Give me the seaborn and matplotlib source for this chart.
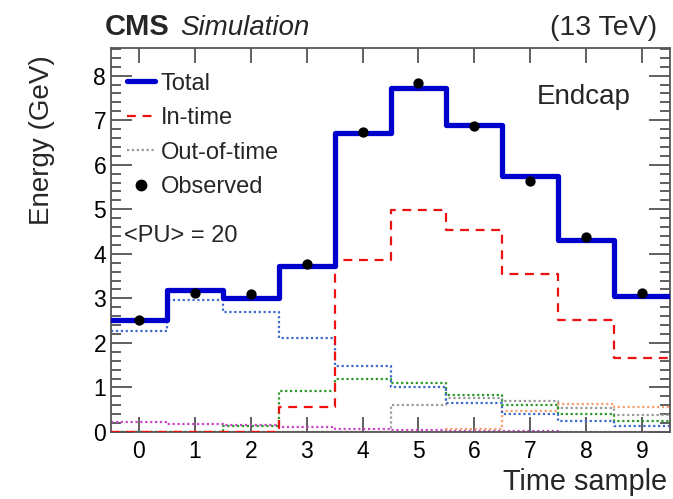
import numpy as np
import pandas as pd
import matplotlib
matplotlib.use("Agg")
import matplotlib.pyplot as plt
from matplotlib.ticker import MultipleLocator
from matplotlib.lines import Line2D
import seaborn as sns

# ---- data ----
samples = list(range(10))
total = [2.52, 3.18, 3.01, 3.72, 6.71, 7.73, 6.90, 5.74, 4.32, 3.05]
in_time = [0.0, 0.0, 0.0, 0.56, 3.87, 4.98, 4.54, 3.54, 2.51, 1.66]
observed = [2.51, 3.11, 3.10, 3.78, 6.73, 7.83, 6.87, 5.63, 4.38, 3.12]
oot_blue = [2.27, 2.97, 2.69, 2.10, 1.49, 1.00, 0.64, 0.41, 0.25, 0.13]
oot_green = [0.0, 0.0, 0.13, 0.92, 1.19, 1.09, 0.84, 0.61, 0.40, 0.25]
oot_gray = [0.0, 0.0, 0.0, 0.0, 0.0, 0.61, 0.76, 0.70, 0.53, 0.38]
oot_orange = [0.0, 0.0, 0.0, 0.0, 0.0, 0.0, 0.06, 0.47, 0.62, 0.56]
oot_magenta = [0.22, 0.19, 0.15, 0.11, 0.07, 0.04, 0.03, 0.02, 0.01, 0.01]
tick_labels = [str(s) for s in samples]

sns.set_style("ticks")
plt.rcParams['font.family'] = ['Liberation Sans', 'DejaVu Sans']

fig = plt.figure(figsize=(6.73, 4.99), dpi=100)
ax = fig.add_axes([111/673, 67/499, 559/673, 384/499])


def step(vals, color, ls, lw, z):
    df = pd.DataFrame({"x": samples, "w": vals})
    sns.histplot(data=df, x="x", weights="w", discrete=True, element="step",
                 fill=False, color=color, linestyle=ls, linewidth=lw,
                 ax=ax, zorder=z)

dot = (0, (1, 1.2))
step(oot_magenta, "#cc44cc", dot, 1.6, 2)
step(oot_orange, "#f5a070", dot, 1.6, 2)
step(oot_gray, "#999999", dot, 1.6, 2)
step(oot_green, "#2a9a2a", dot, 1.6, 2)
step(oot_blue, "#3a6ad0", dot, 1.6, 2)
step(in_time, "#ee1111", (0, (4, 3)), 1.6, 3)
step(total, "#0000cc", "-", 3.8, 4)

obs_df = pd.DataFrame({"x": samples, "y": observed})
sns.scatterplot(data=obs_df, x="x", y="y", color="black", s=55,
                edgecolor="black", linewidth=0, ax=ax, zorder=5)

ax.set_xlim(-0.5, 9.5)
ax.set_ylim(0, 8.62)
ax.set_xticks(samples)
ax.set_xticklabels(tick_labels)
ax.yaxis.set_major_locator(MultipleLocator(1))
ax.yaxis.set_minor_locator(MultipleLocator(0.2))
ax.tick_params(axis="both", which="both", direction="in", top=True,
               right=True, colors="#444444", labelcolor="black",
               labelsize=16.5, width=1.2)
ax.tick_params(axis="y", which="major", length=15)
ax.tick_params(axis="y", which="minor", length=7)
ax.tick_params(axis="x", which="major", length=11, pad=6)
for sp in ax.spines.values():
    sp.set_color("#555555")
    sp.set_linewidth(1.3)

ax.set_xlabel("Time sample", fontsize=20.8, loc="right")
ax.set_ylabel("Energy (GeV)", fontsize=20, loc="top")
ax.xaxis.set_label_coords(0.995, -0.095)
ax.yaxis.set_label_coords(-0.1, 0.98)

handles = [
    Line2D([], [], color="#0000cc", lw=3.8),
    Line2D([], [], color="#ee1111", lw=1.6, ls=(0, (4, 3))),
    Line2D([], [], color="#999999", lw=1.6, ls=dot),
    Line2D([], [], color="black", marker="o", ls="none", markersize=7.5),
]
ax.legend(handles, ["Total", "In-time", "Out-of-time", "Observed"],
          loc="upper left", bbox_to_anchor=(-0.006, 0.985), frameon=False,
          fontsize=17, handlelength=1.2, labelspacing=0.53,
          handletextpad=0.25, borderaxespad=0.4)

ax.text(0.762, 0.854, "Endcap", transform=ax.transAxes, ha="left",
        va="baseline", fontsize=20)
ax.text(0.024, 0.495, "<PU> = 20", transform=ax.transAxes, ha="left",
        va="baseline", fontsize=17)

fig.text(105/673, 1 - 35/499, "CMS", fontsize=21, fontweight="bold",
         ha="left", va="baseline")
fig.text(180/673, 1 - 35/499, "Simulation", fontsize=20, style="italic",
         ha="left", va="baseline")
fig.text(657/673, 1 - 35/499, "(13 TeV)", fontsize=20.5, ha="right",
         va="baseline")

fig.savefig("out.png", dpi=100)
